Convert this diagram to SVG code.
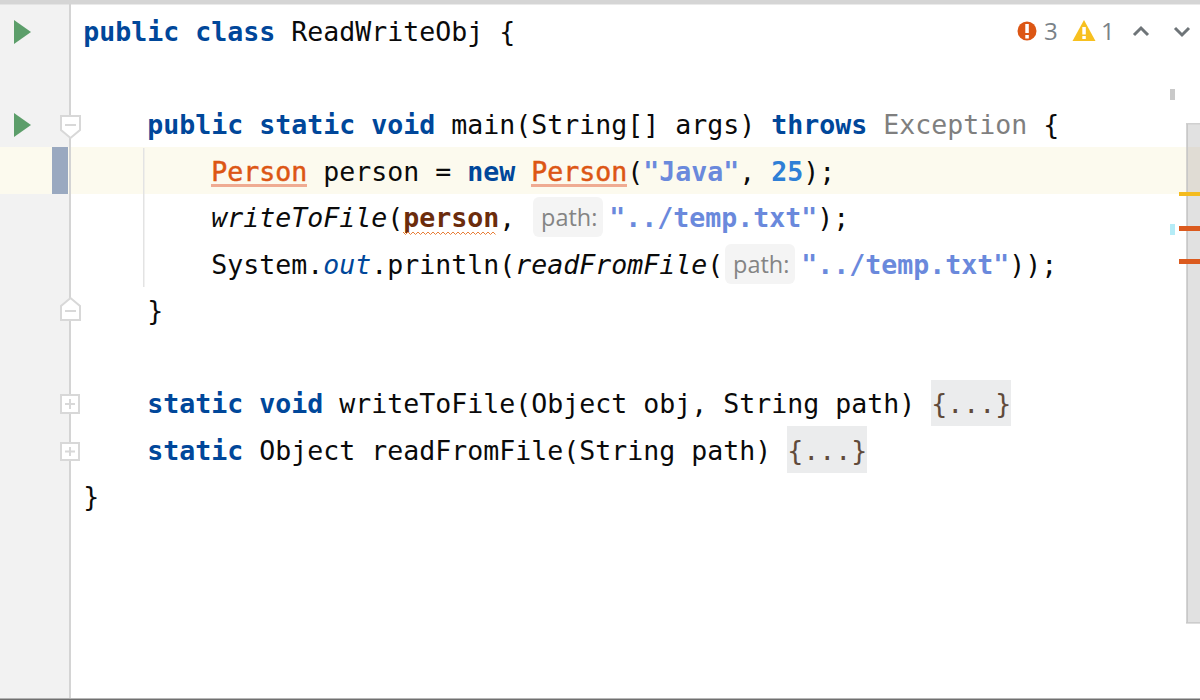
<svg xmlns="http://www.w3.org/2000/svg" width="1200" height="700" viewBox="0 0 1200 700">
<style>
text{white-space:pre}
.c{font-family:"DejaVu Sans Mono","Liberation Mono",monospace;font-size:26.58px;fill:#0a0a0a;transform:translateX(-0.8px)}
.k{fill:#00479a;font-weight:bold}
.e{fill:#dc5614;stroke:#dc5614;stroke-width:.5px}
.s{fill:#6a89dc;font-weight:bold}
.n{fill:#2e7fd6;font-weight:bold}
.g{fill:#7f7f7f}
.i{font-style:italic}
.f{fill:#00479a;font-style:italic}
.p{fill:#6b2c0c;font-weight:bold}
.h{font-family:"Open Sans","Noto Sans",sans-serif;font-size:23.5px;fill:#848484}
.d{fill:#5f4a3a}
.b{fill:#ebeced}
.fold{fill:#fff;stroke:#d8d8d8;stroke-width:2}
.sym{stroke:#d8d8d8;stroke-width:2;fill:none}
.run{fill:#5c9e6a}
.u{font-family:"Open Sans","Noto Sans",sans-serif;font-size:24px;fill:#7a8288}
.m{fill:none;stroke:#6e7478;stroke-width:3}
</style>
<rect width="1200" height="700" fill="#fff"/>
<rect width="70" height="700" fill="#f2f2f2"/>
<rect y="0" width="1200" height="4.500" fill="#d5d5d5"/>
<rect y="147" width="1186" height="47" fill="#fcfaee"/>
<rect x="52" y="147" width="16" height="47" fill="#9aa9c0"/>
<rect x="69" y="4" width="2" height="694" fill="#d4d4d4"/>
<rect x="143" y="148" width="1.500" height="139" fill="#e3e3e3"/>
<rect x="1186" y="123" width="14" height="500.500" fill="#e1e1e1"/>
<rect x="1186" y="147" width="14" height="47" fill="#e0dcd4"/>
<rect x="1186" y="123" width="14" height="1.500" fill="#d0d0d0"/>
<rect x="1186" y="622" width="14" height="1.500" fill="#cccccc"/>
<rect x="1186.500" y="124" width="1.500" height="499" fill="#c8c8c8"/>
<rect x="1179" y="192" width="21" height="4" fill="#f4bb1e"/>
<rect x="1179" y="226" width="21" height="5" fill="#db5a1e"/>
<rect x="1179" y="259" width="21" height="5" fill="#db5a1e"/>
<rect x="1170" y="89" width="5" height="11" fill="#c9c9c9"/>
<rect x="1170" y="224" width="5" height="11" fill="#b5ecf7"/>
<g id="run-class"><path class="run" d="M14 20L31 32L14 44Z"/></g>
<g id="run-main"><path class="run" d="M14 113L31 125L14 137Z"/></g>
<g id="fold-main-open"><path class="fold" d="M61 116H80V130L70.500 138L61 130Z"/><path class="sym" d="M65 125H76"/></g>
<g id="fold-main-close"><path class="fold" d="M61 320V306L70.500 298L80 306V320Z"/><path class="sym" d="M65 311H76"/></g>
<g id="fold-write"><rect class="fold" x="61" y="395" width="18" height="18"/><path class="sym" d="M65 404H75M70 399V409"/></g>
<g id="fold-read"><rect class="fold" x="61" y="443" width="18" height="17"/><path class="sym" d="M65 451.500H75M70 447V456"/></g>
<g id="status">
<circle cx="1027" cy="31" r="9.500" fill="#dc5614"/><rect x="1025.300" y="24" width="3.500" height="9" fill="#fff"/><rect x="1025.300" y="35" width="3.500" height="3.500" fill="#fff"/>
<text class="u" x="1044" y="40">3</text>
<path d="M1084 20L1095.500 41H1072.500Z" fill="#f7c01f"/><rect x="1082.300" y="27" width="3.500" height="7.500" fill="#fff"/><rect x="1082.300" y="36" width="3.500" height="3" fill="#fff"/>
<text class="u" x="1101" y="40">1</text>
<path class="m" d="M1134 35L1141 28L1148 35"/>
<path class="m" d="M1175 28L1182 35L1189 28"/>
</g>
<g id="code">
<text class="c" y="41"><tspan x="84" class="k">public class</tspan><tspan x="292">ReadWriteObj {</tspan></text>
<text class="c" y="134"><tspan x="148" class="k">public static void</tspan><tspan x="452">main(String[] args) </tspan><tspan x="772" class="k">throws</tspan><tspan x="884" class="g">Exception</tspan><tspan x="1044">{</tspan></text>
<text class="c" y="181"><tspan x="212" class="e">Person</tspan><tspan x="324">person = </tspan><tspan x="468" class="k">new</tspan><tspan x="532" class="e">Person</tspan><tspan x="628">(</tspan><tspan x="644" class="s">"Java"</tspan><tspan x="740">, </tspan><tspan x="772" class="n">25</tspan><tspan x="804">);</tspan></text>
<rect x="211" y="184" width="96" height="3" fill="#efab92"/>
<rect x="531" y="184" width="96" height="3" fill="#efab92"/>
<text class="c" y="227"><tspan x="212" class="i">writeToFile</tspan><tspan x="388">(</tspan><tspan x="404" class="p">person</tspan><tspan x="500">,</tspan></text>
<path d="M403 232l2.500 2.500 2.500-2.500 2.500 2.500 2.500-2.500 2.500 2.500 2.500-2.500 2.500 2.500 2.500-2.500 2.500 2.500 2.500-2.500 2.500 2.500 2.500-2.500 2.500 2.500 2.500-2.500 2.500 2.500 2.500-2.500 2.500 2.500 2.500-2.500 2.500 2.500 2.500-2.500 2.500 2.500 2.500-2.500 2.500 2.500 2.500-2.500 2.500 2.500 2.500-2.500 2.500 2.500 2.500-2.500 2.500 2.500 2.500-2.500 2.500 2.500 2.500-2.500 2.500 2.500 2.500-2.500 2.500 2.500 2.500-2.500 2.500 2.500" fill="none" stroke="#e8803a" stroke-width="1"/>
<rect x="533" y="197" width="70" height="40" rx="6" fill="#f4f4f4"/>
<text class="h" x="541" y="226">path:</text>
<text class="c" y="227"><tspan x="610" class="s">"../temp.txt"</tspan><tspan x="818">);</tspan></text>
<text class="c" y="274"><tspan x="212">System.</tspan><tspan x="324" class="f">out</tspan><tspan x="372">.println(</tspan><tspan x="516" class="i">readFromFile</tspan><tspan x="708">(</tspan></text>
<rect x="725" y="244" width="70" height="40" rx="6" fill="#f4f4f4"/>
<text class="h" x="733" y="273">path:</text>
<text class="c" y="274"><tspan x="802" class="s">"../temp.txt"</tspan><tspan x="1010">));</tspan></text>
<text class="c" x="148" y="320">}</text>
<text class="c" y="413"><tspan x="148" class="k">static void</tspan><tspan x="340">writeToFile(Object obj, String path)</tspan></text>
<rect class="b" x="931" y="380" width="80" height="46"/>
<text class="c d" x="932" y="413">{...}</text>
<text class="c" y="460"><tspan x="148" class="k">static</tspan><tspan x="260">Object readFromFile(String path)</tspan></text>
<rect class="b" x="787" y="426" width="80" height="47"/>
<text class="c d" x="788" y="460">{...}</text>
<text class="c" x="84" y="506">}</text>
</g>
<rect y="698.500" width="1200" height="1.500" fill="#707070"/>
</svg>
